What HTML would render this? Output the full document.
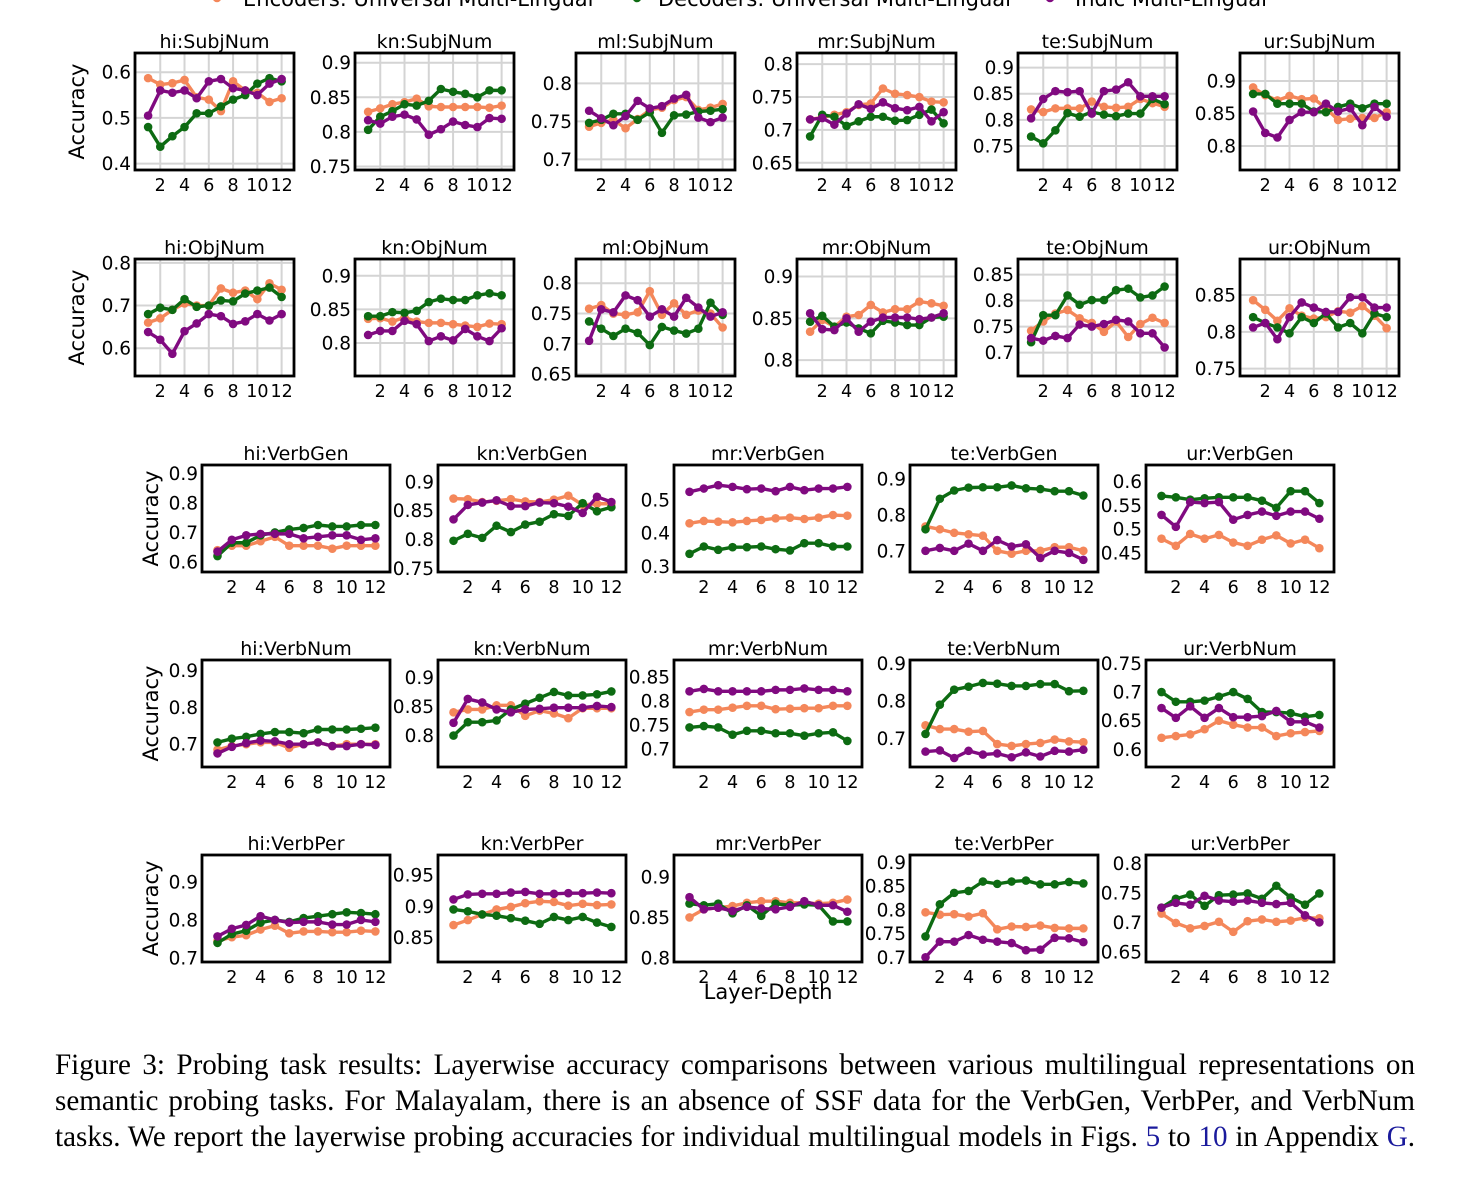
<!DOCTYPE html>
<html><head><meta charset="utf-8">
<style>
html,body{margin:0;padding:0;background:#fff;}
body{width:1478px;height:1185px;position:relative;overflow:hidden;}
#fig{position:absolute;left:0;top:0;}
#caption{position:absolute;left:55px;top:1047px;width:1360px;font-family:"Liberation Serif",serif;font-size:29.1px;line-height:36px;color:#000;}
#caption .ln{text-align:justify;text-align-last:justify;white-space:nowrap;}
#caption .lnk{color:#1a1a9c;}
</style></head>
<body>
<svg id="fig" width="1478" height="1040" xmlns="http://www.w3.org/2000/svg"></svg>
<div id="caption">
<div class="ln">Figure 3: Probing task results: Layerwise accuracy comparisons between various multilingual representations on</div>
<div class="ln">semantic probing tasks. For Malayalam, there is an absence of SSF data for the VerbGen, VerbPer, and VerbNum</div>
<div class="ln">tasks. We report the layerwise probing accuracies for individual multilingual models in Figs. <span class="lnk">5</span> to <span class="lnk">10</span> in Appendix <span class="lnk">G</span>.</div>
</div>
<script>
const layers = [1,2,3,4,5,6,7,8,9,10,11,12];
const xTicks = [2,4,6,8,10,12];
const seriesNames = ["Encoders: Universal Multi-Lingual","Decoders: Universal Multi-Lingual","Indic Multi-Lingual"];

// Row 1: SubjNum
const hi_SubjNum_enc=[.587,.573,.576,.583,.545,.54,.515,.58,.56,.555,.535,.543];
const hi_SubjNum_dec=[.48,.437,.46,.48,.51,.51,.525,.54,.55,.575,.587,.58];
const hi_SubjNum_ind=[.505,.56,.555,.56,.543,.58,.585,.565,.56,.55,.575,.585];
const kn_SubjNum_enc=[.829,.834,.84,.843,.848,.837,.836,.836,.836,.836,.835,.838];
const kn_SubjNum_dec=[.803,.822,.83,.84,.838,.845,.862,.858,.855,.85,.86,.86];
const kn_SubjNum_ind=[.817,.812,.822,.825,.818,.796,.804,.815,.81,.807,.82,.819];
const ml_SubjNum_enc=[.743,.748,.752,.741,.753,.765,.768,.778,.782,.765,.768,.773];
const ml_SubjNum_dec=[.748,.752,.76,.76,.752,.762,.735,.758,.759,.763,.764,.766];
const ml_SubjNum_ind=[.764,.754,.745,.757,.777,.767,.77,.78,.785,.755,.749,.755];
const mr_SubjNum_enc=[.716,.719,.723,.727,.738,.74,.763,.755,.753,.75,.743,.742];
const mr_SubjNum_dec=[.69,.723,.72,.706,.713,.72,.72,.714,.715,.723,.731,.71];
const mr_SubjNum_ind=[.716,.718,.708,.725,.739,.732,.742,.733,.73,.735,.713,.727];
const te_SubjNum_enc=[.82,.815,.822,.822,.822,.835,.825,.823,.825,.84,.832,.825];
const te_SubjNum_dec=[.768,.755,.78,.813,.806,.815,.81,.807,.812,.812,.84,.83];
const te_SubjNum_ind=[.803,.84,.855,.853,.855,.812,.855,.858,.872,.845,.845,.845];
const ur_SubjNum_enc=[.89,.878,.87,.877,.872,.873,.858,.84,.842,.843,.843,.852];
const ur_SubjNum_dec=[.88,.88,.865,.865,.865,.853,.852,.86,.865,.858,.865,.865];
const ur_SubjNum_ind=[.853,.82,.813,.84,.852,.852,.865,.853,.858,.832,.86,.845];
// Row 2: ObjNum
const hi_ObjNum_enc=[.66,.67,.69,.705,.70,.70,.74,.73,.735,.715,.752,.737];
const hi_ObjNum_dec=[.68,.695,.69,.715,.697,.70,.712,.71,.728,.735,.742,.72];
const hi_ObjNum_ind=[.638,.62,.587,.64,.658,.68,.675,.657,.663,.68,.665,.68];
const kn_ObjNum_enc=[.836,.837,.832,.838,.832,.83,.83,.828,.826,.824,.829,.828];
const kn_ObjNum_dec=[.84,.84,.846,.845,.848,.861,.866,.864,.864,.871,.874,.871];
const kn_ObjNum_ind=[.812,.818,.818,.833,.828,.803,.81,.804,.821,.81,.803,.822];
const ml_ObjNum_enc=[.758,.764,.75,.748,.752,.787,.748,.767,.748,.755,.75,.727];
const ml_ObjNum_dec=[.737,.725,.713,.725,.718,.698,.728,.722,.717,.725,.768,.748];
const ml_ObjNum_ind=[.705,.757,.752,.78,.772,.745,.757,.745,.776,.76,.745,.752];
const mr_ObjNum_enc=[.834,.848,.84,.852,.854,.866,.857,.861,.861,.87,.868,.865];
const mr_ObjNum_dec=[.846,.853,.84,.845,.838,.832,.847,.845,.842,.842,.851,.852];
const mr_ObjNum_ind=[.856,.837,.836,.85,.834,.846,.851,.851,.851,.849,.851,.856];
const te_ObjNum_enc=[.742,.76,.775,.782,.766,.757,.74,.76,.73,.755,.767,.757];
const te_ObjNum_dec=[.72,.772,.772,.81,.792,.801,.801,.82,.823,.806,.81,.827];
const te_ObjNum_ind=[.728,.723,.732,.728,.754,.75,.755,.763,.76,.737,.737,.71];
const ur_ObjNum_enc=[.843,.83,.815,.832,.822,.818,.82,.828,.826,.835,.822,.805];
const ur_ObjNum_dec=[.82,.812,.806,.798,.82,.812,.825,.806,.812,.798,.825,.82];
const ur_ObjNum_ind=[.806,.812,.79,.82,.84,.833,.827,.827,.847,.847,.833,.833];
// Row 3: VerbGen
const hi_VerbGen_enc=[.64,.655,.655,.67,.685,.655,.655,.655,.645,.655,.655,.655];
const hi_VerbGen_dec=[.62,.665,.665,.69,.7,.71,.715,.725,.72,.72,.725,.725];
const hi_VerbGen_ind=[.635,.675,.69,.695,.695,.695,.68,.685,.69,.69,.675,.68];
const kn_VerbGen_enc=[.871,.87,.865,.867,.87,.866,.865,.869,.876,.86,.862,.862];
const kn_VerbGen_dec=[.798,.81,.803,.824,.813,.826,.831,.844,.841,.863,.849,.856];
const kn_VerbGen_ind=[.835,.86,.864,.868,.858,.858,.864,.863,.857,.846,.874,.865];
const mr_VerbGen_enc=[.43,.437,.435,.433,.437,.44,.445,.447,.443,.447,.455,.453];
const mr_VerbGen_dec=[.338,.36,.35,.358,.358,.36,.352,.348,.37,.37,.36,.36];
const mr_VerbGen_ind=[.525,.535,.545,.54,.533,.535,.527,.54,.53,.535,.535,.54];
const te_VerbGen_enc=[.768,.76,.75,.746,.742,.70,.692,.70,.70,.71,.71,.70];
const te_VerbGen_dec=[.76,.845,.868,.876,.877,.877,.882,.874,.872,.866,.866,.854];
const te_VerbGen_ind=[.70,.708,.70,.72,.70,.73,.712,.718,.68,.70,.694,.675];
const ur_VerbGen_enc=[.48,.465,.49,.48,.488,.472,.465,.478,.487,.47,.478,.46];
const ur_VerbGen_dec=[.57,.567,.562,.565,.567,.567,.567,.56,.545,.58,.58,.555];
const ur_VerbGen_ind=[.53,.505,.557,.555,.557,.52,.53,.537,.528,.537,.537,.522];
// Row 4: VerbNum
const hi_VerbNum_enc=[.685,.695,.70,.705,.705,.69,.70,.705,.695,.70,.70,.70];
const hi_VerbNum_dec=[.705,.715,.72,.728,.733,.733,.73,.74,.74,.74,.742,.745];
const hi_VerbNum_ind=[.675,.693,.703,.71,.708,.70,.70,.705,.695,.695,.70,.698];
const kn_VerbNum_enc=[.84,.845,.845,.852,.852,.834,.843,.838,.83,.847,.847,.847];
const kn_VerbNum_dec=[.80,.823,.823,.826,.845,.855,.865,.875,.869,.869,.871,.876];
const kn_VerbNum_ind=[.822,.863,.857,.845,.84,.845,.846,.848,.848,.848,.851,.849];
const mr_VerbNum_enc=[.777,.782,.782,.786,.79,.79,.783,.784,.785,.785,.79,.79];
const mr_VerbNum_dec=[.745,.748,.745,.73,.738,.738,.733,.733,.728,.733,.735,.717];
const mr_VerbNum_ind=[.82,.825,.82,.82,.82,.82,.823,.823,.826,.823,.823,.82];
const te_VerbNum_enc=[.735,.725,.725,.718,.72,.685,.68,.685,.688,.697,.692,.69];
const te_VerbNum_dec=[.712,.79,.83,.838,.848,.846,.84,.84,.845,.845,.826,.827];
const te_VerbNum_ind=[.665,.668,.648,.667,.657,.66,.65,.663,.652,.667,.665,.67];
const ur_VerbNum_enc=[.62,.623,.626,.635,.65,.643,.638,.638,.623,.628,.63,.632];
const ur_VerbNum_dec=[.70,.683,.683,.685,.692,.70,.688,.665,.665,.663,.657,.66];
const ur_VerbNum_ind=[.672,.655,.675,.655,.672,.656,.656,.658,.667,.648,.648,.638];
// Row 5: VerbPer
const hi_VerbPer_enc=[.745,.755,.76,.775,.785,.765,.77,.77,.768,.768,.772,.77];
const hi_VerbPer_dec=[.74,.763,.772,.793,.80,.795,.805,.81,.815,.82,.818,.815];
const hi_VerbPer_ind=[.757,.777,.787,.81,.80,.793,.795,.795,.788,.788,.80,.795];
const kn_VerbPer_enc=[.87,.878,.887,.895,.899,.905,.908,.907,.901,.904,.902,.903];
const kn_VerbPer_dec=[.895,.892,.887,.885,.881,.877,.872,.883,.878,.883,.874,.867];
const kn_VerbPer_ind=[.911,.919,.92,.92,.922,.923,.92,.92,.921,.921,.922,.921];
const mr_VerbPer_enc=[.85,.86,.862,.864,.868,.87,.87,.868,.868,.867,.868,.872];
const mr_VerbPer_dec=[.867,.865,.867,.855,.865,.852,.867,.865,.866,.865,.845,.845];
const mr_VerbPer_ind=[.875,.86,.862,.858,.863,.861,.86,.863,.87,.865,.865,.857];
const te_VerbPer_enc=[.795,.79,.791,.786,.793,.759,.765,.764,.767,.762,.761,.761];
const te_VerbPer_dec=[.744,.812,.836,.84,.86,.855,.86,.862,.854,.854,.859,.856];
const te_VerbPer_ind=[.70,.733,.733,.747,.737,.733,.73,.715,.716,.741,.74,.732];
const ur_VerbPer_enc=[.715,.699,.69,.694,.701,.684,.702,.705,.701,.703,.708,.707];
const ur_VerbPer_dec=[.725,.74,.747,.728,.746,.747,.749,.74,.762,.742,.73,.749];
const ur_VerbPer_ind=[.725,.733,.73,.745,.737,.735,.737,.733,.731,.733,.712,.70];

// y tick labels per panel
const yt_hi_SubjNum=["0.4","0.5","0.6"], yt_kn_SubjNum=["0.75","0.8","0.85","0.9"], yt_ml_SubjNum=["0.7","0.75","0.8"];
const yt_mr_SubjNum=["0.65","0.7","0.75","0.8"], yt_te_SubjNum=["0.75","0.8","0.85","0.9"], yt_ur_SubjNum=["0.8","0.85","0.9"];
const yt_hi_ObjNum=["0.6","0.7","0.8"], yt_kn_ObjNum=["0.8","0.85","0.9"], yt_ml_ObjNum=["0.65","0.7","0.75","0.8"];
const yt_mr_ObjNum=["0.8","0.85","0.9"], yt_te_ObjNum=["0.7","0.75","0.8","0.85"], yt_ur_ObjNum=["0.75","0.8","0.85"];
const yt_hi_VerbGen=["0.6","0.7","0.8","0.9"], yt_kn_VerbGen=["0.75","0.8","0.85","0.9"], yt_mr_VerbGen=["0.3","0.4","0.5"];
const yt_te_VerbGen=["0.7","0.8","0.9"], yt_ur_VerbGen=["0.45","0.5","0.55","0.6"];
const yt_hi_VerbNum=["0.7","0.8","0.9"], yt_kn_VerbNum=["0.8","0.85","0.9"], yt_mr_VerbNum=["0.7","0.75","0.8","0.85"];
const yt_te_VerbNum=["0.7","0.8","0.9"], yt_ur_VerbNum=["0.6","0.65","0.7","0.75"];
const yt_hi_VerbPer=["0.7","0.8","0.9"], yt_kn_VerbPer=["0.85","0.9","0.95"], yt_mr_VerbPer=["0.8","0.85","0.9"];
const yt_te_VerbPer=["0.7","0.75","0.8","0.85","0.9"], yt_ur_VerbPer=["0.65","0.7","0.75","0.8"];

const NS="http://www.w3.org/2000/svg";
const svg=document.getElementById('fig');
const COLORS=["#f4875a","#0d6b12","#800a80"];
const FONT='"DejaVu Sans","Liberation Sans",sans-serif';
function el(tag,attrs,parent){const e=document.createElementNS(NS,tag);for(const k in attrs)e.setAttribute(k,attrs[k]);(parent||svg).appendChild(e);return e;}

const TW=159, TH=117, BW=188, BH=107;
const panels=[
["hi:SubjNum",hi_SubjNum_enc,hi_SubjNum_dec,hi_SubjNum_ind,yt_hi_SubjNum,135,53,TW,TH,.386,.642,1,1],
["kn:SubjNum",kn_SubjNum_enc,kn_SubjNum_dec,kn_SubjNum_ind,yt_kn_SubjNum,355,53,TW,TH,.745,.914,1,0],
["ml:SubjNum",ml_SubjNum_enc,ml_SubjNum_dec,ml_SubjNum_ind,yt_ml_SubjNum,576,53,TW,TH,.686,.84,1,0],
["mr:SubjNum",mr_SubjNum_enc,mr_SubjNum_dec,mr_SubjNum_ind,yt_mr_SubjNum,797,53,TW,TH,.639,.817,1,0],
["te:SubjNum",te_SubjNum_enc,te_SubjNum_dec,te_SubjNum_ind,yt_te_SubjNum,1018,53,TW,TH,.704,.928,1,0],
["ur:SubjNum",ur_SubjNum_enc,ur_SubjNum_dec,ur_SubjNum_ind,yt_ur_SubjNum,1240,53,TW,TH,.763,.943,1,0],
["hi:ObjNum",hi_ObjNum_enc,hi_ObjNum_dec,hi_ObjNum_ind,yt_hi_ObjNum,135,259,TW,TH,.535,.809,1,1],
["kn:ObjNum",kn_ObjNum_enc,kn_ObjNum_dec,kn_ObjNum_ind,yt_kn_ObjNum,355,259,TW,TH,.751,.925,1,0],
["ml:ObjNum",ml_ObjNum_enc,ml_ObjNum_dec,ml_ObjNum_ind,yt_ml_ObjNum,576,259,TW,TH,.647,.84,1,0],
["mr:ObjNum",mr_ObjNum_enc,mr_ObjNum_dec,mr_ObjNum_ind,yt_mr_ObjNum,797,259,TW,TH,.781,.921,1,0],
["te:ObjNum",te_ObjNum_enc,te_ObjNum_dec,te_ObjNum_ind,yt_te_ObjNum,1018,259,TW,TH,.655,.88,1,0],
["ur:ObjNum",ur_ObjNum_enc,ur_ObjNum_dec,ur_ObjNum_ind,yt_ur_ObjNum,1240,259,TW,TH,.74,.899,1,0],
["hi:VerbGen",hi_VerbGen_enc,hi_VerbGen_dec,hi_VerbGen_ind,yt_hi_VerbGen,202,465,BW,BH,.566,.928,0,1],
["kn:VerbGen",kn_VerbGen_enc,kn_VerbGen_dec,kn_VerbGen_ind,yt_kn_VerbGen,438,465,BW,BH,.744,.929,0,0],
["mr:VerbGen",mr_VerbGen_enc,mr_VerbGen_dec,mr_VerbGen_ind,yt_mr_VerbGen,674,465,BW,BH,.283,.606,0,0],
["te:VerbGen",te_VerbGen_enc,te_VerbGen_dec,te_VerbGen_ind,yt_te_VerbGen,910,465,BW,BH,.641,.939,0,0],
["ur:VerbGen",ur_VerbGen_enc,ur_VerbGen_dec,ur_VerbGen_ind,yt_ur_VerbGen,1146,465,BW,BH,.41,.635,0,0],
["hi:VerbNum",hi_VerbNum_enc,hi_VerbNum_dec,hi_VerbNum_ind,yt_hi_VerbNum,202,660,BW,BH,.638,.929,0,1],
["kn:VerbNum",kn_VerbNum_enc,kn_VerbNum_dec,kn_VerbNum_ind,yt_kn_VerbNum,438,660,BW,BH,.746,.93,0,0],
["mr:VerbNum",mr_VerbNum_enc,mr_VerbNum_dec,mr_VerbNum_ind,yt_mr_VerbNum,674,660,BW,BH,.663,.885,0,0],
["te:VerbNum",te_VerbNum_enc,te_VerbNum_dec,te_VerbNum_ind,yt_te_VerbNum,910,660,BW,BH,.624,.909,0,0],
["ur:VerbNum",ur_VerbNum_enc,ur_VerbNum_dec,ur_VerbNum_ind,yt_ur_VerbNum,1146,660,BW,BH,.569,.756,0,0],
["hi:VerbPer",hi_VerbPer_enc,hi_VerbPer_dec,hi_VerbPer_ind,yt_hi_VerbPer,202,855,BW,BH,.69,.97,0,1],
["kn:VerbPer",kn_VerbPer_enc,kn_VerbPer_dec,kn_VerbPer_ind,yt_kn_VerbPer,438,855,BW,BH,.811,.982,0,0],
["mr:VerbPer",mr_VerbPer_enc,mr_VerbPer_dec,mr_VerbPer_ind,yt_mr_VerbPer,674,855,BW,BH,.795,.927,0,0],
["te:VerbPer",te_VerbPer_enc,te_VerbPer_dec,te_VerbPer_ind,yt_te_VerbPer,910,855,BW,BH,.69,.916,0,0],
["ur:VerbPer",ur_VerbPer_enc,ur_VerbPer_dec,ur_VerbPer_ind,yt_ur_VerbPer,1146,855,BW,BH,.633,.814,0,0]
];

panels.forEach(p=>{
  const [title,enc,dec,ind,yt,L,T,W,H,ymin,ymax,grid,ylab]=p;
  const X0=-0.08, X1=13.02;
  const xs=v=>L+(v-X0)/(X1-X0)*W;
  const ys=v=>T+H-(v-ymin)/(ymax-ymin)*H;
  const slug=title.replace(':','-').toLowerCase();
  const g=el('g',{});
  
  
  if(grid){
    xTicks.forEach(t=>{el('line',{x1:xs(t),x2:xs(t),y1:T,y2:T+H,stroke:'#d4d4d4','stroke-width':2},g);});
    yt.forEach(t=>{el('line',{x1:L,x2:L+W,y1:ys(+t),y2:ys(+t),stroke:'#d4d4d4','stroke-width':2},g);});
  }
  [enc,dec,ind].forEach((arr,si)=>{
    const pl=el('polyline',{points:arr.map((v,i)=>xs(layers[i])+','+ys(v)).join(' '),fill:'none',stroke:COLORS[si],'stroke-width':3.4,'stroke-linejoin':'round'},g);
    
    
    arr.forEach((v,i)=>{
      const c=el('circle',{cx:xs(layers[i]),cy:ys(v),r:4.3,fill:COLORS[si]},g);
      
      
    });
  });
  const box=el('rect',{x:L,y:T,width:W,height:H,fill:'none',stroke:'#000','stroke-width':2.8},g);
  
  
  const tt=el('text',{x:L+W/2,y:T-5,'text-anchor':'middle','font-family':FONT,'font-size':19},g);
  tt.textContent=title;
  
  
  xTicks.forEach(t=>{
    const tx=el('text',{x:xs(t),y:T+H+21,'text-anchor':'middle','font-family':FONT,'font-size':17.5},g);
    tx.textContent=String(t);
    
    
  });
  yt.forEach(t=>{
    const ty=el('text',{x:L-4,y:ys(+t)+6.5,'text-anchor':'end','font-family':FONT,'font-size':18.5},g);
    ty.textContent=t;
    
    
  });
  if(ylab){
    const lx=(W===TW)?84:158;
    const yl=el('text',{x:lx,y:T+H/2,'text-anchor':'middle','font-family':FONT,'font-size':21,transform:`rotate(-90 ${lx} ${T+H/2})`},g);
    yl.textContent='Accuracy';
    
    
  }
});

const xl=el('text',{x:768,y:999,'text-anchor':'middle','font-family':FONT,'font-size':21});
xl.textContent='Layer-Depth';



const legX=[197,617,1030], legTextX=[243,658,1075];
seriesNames.forEach((n,i)=>{
  const lg=el('g',{});
  
  
  el('line',{x1:legX[i],x2:legX[i]+40,y1:-2,y2:-2,stroke:COLORS[i],'stroke-width':3.4},lg);
  el('circle',{cx:legX[i]+20,cy:-2,r:4.3,fill:COLORS[i]},lg);
  const t=el('text',{x:legTextX[i],y:6,'font-family':FONT,'font-size':21},lg);
  t.textContent=n;
});
</script>
</body></html>
